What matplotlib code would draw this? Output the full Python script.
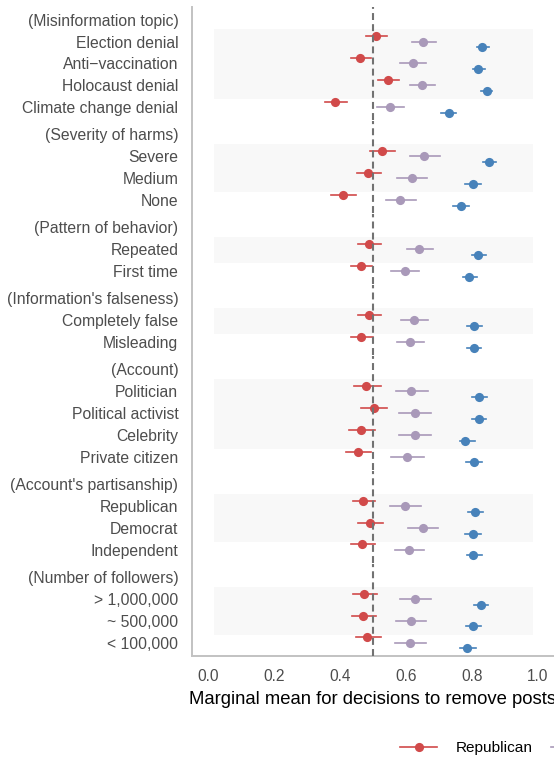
import matplotlib.pyplot as plt
from matplotlib.lines import Line2D

plt.rcParams['font.family'] = ['Liberation Sans', 'DejaVu Sans']
plt.rcParams['lines.scale_dashes'] = False

groups = ["(Misinformation topic)", "(Severity of harms)", "(Pattern of behavior)",
          "(Information's falseness)", "(Account)", "(Account's partisanship)",
          "(Number of followers)"]
levels = [
    ["Election denial", "Anti\u2212vaccination", "Holocaust denial", "Climate change denial"],
    ["Severe", "Medium", "None"],
    ["Repeated", "First time"],
    ["Completely false", "Misleading"],
    ["Politician", "Political activist", "Celebrity", "Private citizen"],
    ["Republican", "Democrat", "Independent"],
    ["> 1,000,000", "~ 500,000", "< 100,000"],
]

# marginal means with 95% intervals, one entry per attribute level (top to bottom)
rep_est = [0.510, 0.462, 0.546, 0.386, 0.528, 0.485, 0.410, 0.488, 0.463, 0.487, 0.465,
           0.480, 0.502, 0.463, 0.454, 0.470, 0.490, 0.466, 0.473, 0.470, 0.482]
rep_low = [0.479, 0.432, 0.515, 0.356, 0.492, 0.450, 0.374, 0.455, 0.432, 0.455, 0.434,
           0.442, 0.465, 0.426, 0.417, 0.438, 0.455, 0.434, 0.440, 0.435, 0.447]
rep_high = [0.543, 0.495, 0.579, 0.420, 0.566, 0.523, 0.447, 0.523, 0.497, 0.523, 0.501,
            0.523, 0.541, 0.505, 0.495, 0.507, 0.530, 0.505, 0.513, 0.510, 0.523]

ind_est = [0.653, 0.622, 0.649, 0.551, 0.656, 0.617, 0.583, 0.640, 0.596, 0.625, 0.613,
           0.616, 0.626, 0.627, 0.604, 0.598, 0.651, 0.610, 0.628, 0.614, 0.612]
ind_low = [0.617, 0.583, 0.611, 0.513, 0.612, 0.573, 0.540, 0.602, 0.555, 0.584, 0.573,
           0.571, 0.580, 0.580, 0.556, 0.553, 0.607, 0.568, 0.583, 0.570, 0.568]
ind_high = [0.692, 0.662, 0.689, 0.593, 0.702, 0.664, 0.629, 0.682, 0.640, 0.667, 0.656,
            0.666, 0.676, 0.676, 0.654, 0.646, 0.698, 0.656, 0.676, 0.662, 0.662]

dem_est = [0.831, 0.819, 0.844, 0.729, 0.852, 0.802, 0.766, 0.819, 0.792, 0.806, 0.805,
           0.821, 0.820, 0.780, 0.806, 0.810, 0.802, 0.804, 0.826, 0.803, 0.785]
dem_low = [0.816, 0.803, 0.826, 0.707, 0.832, 0.780, 0.743, 0.800, 0.772, 0.785, 0.785,
           0.800, 0.800, 0.763, 0.783, 0.788, 0.780, 0.785, 0.806, 0.782, 0.763]
dem_high = [0.852, 0.839, 0.861, 0.753, 0.873, 0.826, 0.791, 0.841, 0.814, 0.829, 0.828,
            0.846, 0.843, 0.808, 0.831, 0.834, 0.826, 0.829, 0.849, 0.828, 0.811]

parties = ["Republican", "Independent", "Democrat"]
series = [(rep_est, rep_low, rep_high), (ind_est, ind_low, ind_high), (dem_est, dem_low, dem_high)]
colors = ["#D14A4A", "#A999B9", "#4782BA"]
offsets = [-0.25, 0.0, 0.25]
xticks = [0.0, 0.2, 0.4, 0.6, 0.8, 1.0]

W, H = 554, 758
fig = plt.figure(figsize=(W / 100, H / 100), dpi=100)

top_px, bottom_px, gap_px = 6.5, 656.0, 1.0
left_px, width_px = 191.5, 363.0
sizes = [len(lv) + 1.2 for lv in levels]  # header row + levels + padding
unit = (bottom_px - top_px - gap_px * (len(groups) - 1)) / sum(sizes)
grey_text = "#4D4D4D"

y_px = top_px
i = 0
for g, (name, lv) in enumerate(zip(groups, levels)):
    h_px = sizes[g] * unit
    ax = fig.add_axes([left_px / W, 1 - (y_px + h_px) / H, width_px / W, h_px / H])
    y_px += h_px + gap_px
    n = len(lv)

    # light band behind every level except the reference (last) one
    ax.fill_between([0.018, 0.986], 0.45, n - 1 + 0.64, color="#F8F8F8", lw=0, zorder=0)

    for k in range(n):
        for (est, low, high), c, off in zip(series, colors, offsets):
            yy = k + 1 + off
            ax.plot([low[i + k], high[i + k]], [yy, yy], color=c, lw=1.2, zorder=2)
            ax.plot(est[i + k], yy, "o", color=c, ms=6.6, mew=0, zorder=3)
    i += n

    ax.axvline(0.5, color="#727272", lw=1.5, ls=(0, (5, 3)), zorder=5)

    ax.set_xlim(-0.05, 1.05)
    ax.set_ylim(n + 0.6, -0.6)
    ax.set_yticks(range(n + 1))
    ax.set_yticklabels([name] + lv)
    ax.tick_params(axis="y", length=0, pad=9.5, labelsize=11.3, labelcolor=grey_text)

    for s in ["top", "right", "bottom"]:
        ax.spines[s].set_visible(False)
    ax.spines["left"].set_color("#C2C2C2")
    ax.spines["left"].set_linewidth(1.4)

    if g == len(groups) - 1:
        ax.spines["bottom"].set_visible(True)
        ax.spines["bottom"].set_color("#C2C2C2")
        ax.spines["bottom"].set_linewidth(1.4)
        ax.set_xticks(xticks)
        ax.set_xticklabels([f"{t:.1f}" for t in xticks])
        ax.tick_params(axis="x", length=0, pad=9.5, labelsize=11.2, labelcolor=grey_text)
        ax.set_xlabel("Marginal mean for decisions to remove posts", fontsize=13.3,
                      color="black", labelpad=5)
    else:
        ax.set_xticks([])

handles = [Line2D([], [], color=c, lw=1.2, marker="o", ms=6.6, mew=0) for c in colors]
fig.legend(handles, parties, loc="center left", bbox_to_anchor=(400 / W, 1 - 748 / H),
           ncol=3, frameon=False, fontsize=11.1, handlelength=2.4, handletextpad=1.2,
           columnspacing=1.2, borderpad=0, borderaxespad=0)

fig.savefig("out.png", dpi=100)
